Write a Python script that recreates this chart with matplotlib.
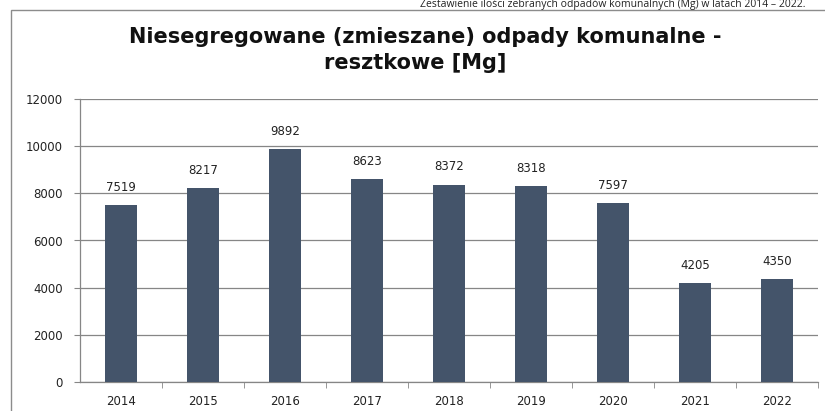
import matplotlib
matplotlib.use("Agg")
import matplotlib.pyplot as plt
from matplotlib.patches import Rectangle

years = ["2014", "2015", "2016", "2017", "2018", "2019", "2020", "2021", "2022"]
values = [7519, 8217, 9892, 8623, 8372, 8318, 7597, 4205, 4350]
yticks = [0, 2000, 4000, 6000, 8000, 10000, 12000]

W, H = 825, 411
fig = plt.figure(figsize=(W / 100, H / 100), dpi=100)
fig.patch.set_facecolor("white")

# outer chart frame
fig.patches.append(Rectangle((11 / W, -0.1), 1.2, (H - 10) / H + 0.1,
                             transform=fig.transFigure, fill=False,
                             edgecolor="#8c8c8c", linewidth=1.0))

# caption above the chart frame
fig.text(805 / W, 1 - 5 / H, "Zestawienie ilości zebranych odpadów komunalnych (Mg) w latach 2014 – 2022.",
         ha="right", va="center", fontsize=7.5, family="Open Sans", color="#222222")

ax = fig.add_axes([80 / W, 1 - 382 / H, (818 - 80) / W, (382 - 99) / H])
x = list(range(len(years)))
ax.bar(x, values, width=0.38, color="#44546A", zorder=3)
ax.set_xlim(-0.5, len(years) - 0.5)
ax.set_ylim(0, 12000)
ax.set_yticks(yticks)
ax.set_yticklabels([str(v) for v in yticks], fontsize=8.5, family="DejaVu Sans", color="#222222")
ax.set_xticks(x)
ax.set_xticklabels(years, fontsize=8.5, family="DejaVu Sans", color="#222222")
ax.set_xticks([i + 0.5 for i in x], minor=True)
ax.tick_params(axis="x", which="major", length=0, pad=9)
ax.tick_params(axis="x", which="minor", length=4, color="#868686", direction="out")
ax.tick_params(axis="y", length=4.5, color="#868686", pad=8)
ax.grid(axis="y", color="#868686", linewidth=0.9, zorder=0)
for s in ["top", "right"]:
    ax.spines[s].set_visible(False)
for s in ["left", "bottom"]:
    ax.spines[s].set_color("#868686")
    ax.spines[s].set_linewidth(0.9)

for xi, v in zip(x, values):
    ax.annotate(str(v), (xi, v), xytext=(0, 8), textcoords="offset points",
                ha="center", va="bottom", fontsize=8.5,
                family="DejaVu Sans", color="#222222")

fig.text(425 / W, 1 - 43 / H, "Niesegregowane (zmieszane) odpady komunalne -",
         ha="center", va="baseline", fontsize=15, fontweight="bold", family="DejaVu Sans", color="#111111")
fig.text(415 / W, 1 - 69 / H, "resztkowe [Mg]",
         ha="center", va="baseline", fontsize=15, fontweight="bold", family="DejaVu Sans", color="#111111")

fig.savefig("out.png", dpi=100, facecolor="white")
